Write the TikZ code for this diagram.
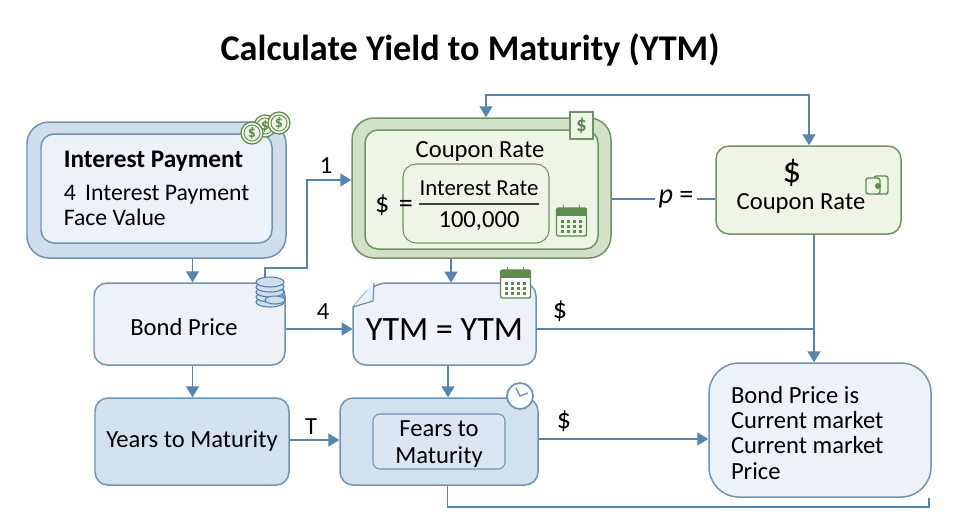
\documentclass[tikz,border=0pt]{standalone}
\usepackage{fontspec}
\setmainfont{Carlito}
\usetikzlibrary{arrows.meta,positioning}
\definecolor{flowblue}{HTML}{5585AE}
\definecolor{edgeblue}{HTML}{6F93B5}
\definecolor{edgegreen}{HTML}{6F9464}
\definecolor{iconblue}{HTML}{4F7FAB}
\definecolor{icongreen}{HTML}{5E8C4F}
\definecolor{paleblue}{HTML}{EDF1F8}
\definecolor{midblue}{HTML}{D3E0EE}
\definecolor{softblue}{HTML}{CFDDEC}
\definecolor{palegreen}{HTML}{EEF4E6}
\definecolor{softgreen}{HTML}{D2E1C7}

\begin{document}
\begin{tikzpicture}[x=0.2mm,y=-0.2mm]
\tikzset{
  box/.style={rectangle,draw=edgeblue,line width=0.85pt,rounded corners=2.6mm,inner sep=0pt,align=center,font=\fontsize{14}{14.7}\selectfont},
  greenbox/.style={box,draw=edgegreen},
  flow/.style={draw=flowblue,line width=0.85pt,-{Triangle[length=2.2mm,width=2.6mm]}},
  plainflow/.style={draw=flowblue,line width=0.85pt},
  flowlabel/.style={inner sep=0pt,font=\fontsize{14}{17}\selectfont},
  biglabel/.style={inner sep=0pt,font=\fontsize{16}{19}\selectfont},
  coin/.pic={
    \draw[icongreen,line width=0.7pt,fill=palegreen] (0,0) circle (11);
    \draw[icongreen,line width=0.5pt] (0,0) circle (8);
    \node[inner sep=0pt,text=icongreen,font=\fontsize{9}{9}\selectfont\bfseries] (-coin) at (0,0) {\$};
  },
  calendar/.pic={
    \draw[icongreen,line width=0.8pt,fill=#1,rounded corners=0.3mm] (-15,-14) rectangle (15,14);
    \fill[icongreen] (-15,-14) rectangle (15,-6);
    \foreach \col in {-9,-3,3,9}
      \foreach \row in {-1,4,9}
        \fill[icongreen] (\col-1.5,\row-1.5) rectangle (\col+1.5,\row+1.5);
    \foreach \col in {-8,8}
      \draw[icongreen,line width=1pt] (\col,-17) -- (\col,-12);
  }
}
\useasboundingbox (0,0) rectangle (966,527);

\node[inner sep=0pt,font=\fontsize{20.6}{24}\selectfont\bfseries] (n_title) at (470,50) {Calculate Yield to Maturity (YTM)};

% first column
\node[box,fill=softblue,minimum width=51.8mm,minimum height=27.2mm,rounded corners=4.4mm] (n_interest) at (156.5,190) {};
\node[box,fill=paleblue,minimum width=46.2mm,minimum height=21.8mm,align=flush left,font=\fontsize{13.5}{14.3}\selectfont] (n_interest_in) at (156.5,188.5)
  {{\fontsize{14.4}{14.3}\selectfont\bfseries Interest Payment}\\[1.6mm]4\, Interest Payment\hspace*{1.2mm}\\Face Value};
\node[box,fill=paleblue,minimum width=38.2mm,minimum height=16.4mm] (n_bond) at (189.5,324) {\rule{0pt}{4.55mm}Bond Price\hspace{2.2mm}};
\node[box,fill=midblue,minimum width=38.8mm,minimum height=17.4mm] (n_years) at (192,441.5) {Years to Maturity};

% middle column
\node[box,draw=edgegreen,fill=softgreen,minimum width=51.8mm,minimum height=28mm,rounded corners=4.4mm] (n_coupon) at (481.5,188) {};
\node[greenbox,fill=palegreen,minimum width=46.6mm,minimum height=23.8mm] (n_coupon_in) at (481.5,189.5) {};
\node[greenbox,fill=palegreen,line width=0.6pt,minimum width=29.2mm,minimum height=15.8mm] (n_formula) at (476,203.5) {};
\node[flowlabel] (n_coupon_label) at (480,151) {Coupon Rate};
\node[biglabel] (n_dollar_eq) at (394,205) {\$\,\,=};
\node[flowlabel,font=\fontsize{13}{16}\selectfont] (n_frac_top) at (479,188.5) {Interest Rate};
\node[flowlabel] (n_frac_bot) at (479,221) {100,000};
\draw[black!75,line width=0.85pt] (419,204) -- (539,204);

\draw[draw=edgeblue,line width=0.85pt,fill=paleblue,rounded corners=2.6mm] (353,307) -- (353,365) -- (536,365) -- (536,283) -- (374,283) [sharp corners] -- cycle;
\draw[draw=edgeblue,line width=0.7pt,fill=paleblue] (374,283) -- (373,301) -- (353,307);
\node[inner sep=0pt,minimum width=36.6mm,minimum height=16.4mm,font=\fontsize{19.4}{24}\selectfont] (n_ytm) at (444.5,324) {\rule{0pt}{6.4mm}YTM = YTM};

\node[box,fill=midblue,minimum width=39.6mm,minimum height=17.4mm] (n_fears) at (439,441.5) {};
\node[box,fill=midblue!65!paleblue,line width=0.6pt,minimum width=26.4mm,minimum height=11mm,rounded corners=1.4mm] (n_fears_in) at (439,441.5) {\rule{0pt}{4.2mm}Fears to\\[0.2mm]Maturity};

% right column
\node[greenbox,fill=palegreen,minimum width=37mm,minimum height=17.6mm] (n_rate) at (808.5,190) {};
\node[inner sep=0pt,font=\fontsize{21}{23}\selectfont] (n_rate_dollar) at (792,173) {\$};
\node[flowlabel] (n_rate_label) at (801,203) {Coupon Rate};
\node[box,fill=paleblue,minimum width=44.4mm,minimum height=26.8mm,rounded corners=6mm,text width=35.6mm,align=flush left,font=\fontsize{14}{14.3}\selectfont] (n_result) at (820,430)
  {\rule{0pt}{4.6mm}Bond Price is\\Current market\\Current market\\Price};

% connectors
\draw[flow] (192.5,0 |- n_interest.south) -- (192.5,0 |- n_bond.north);
\draw[flow] (192.5,0 |- n_bond.south) -- (192.5,0 |- n_years.north);
\draw[flow] (265,0 |- n_bond.north) -- (265,268) -- (307,268) -- (307,180) -- (n_coupon.west |- 0,180);
\draw[flow] (n_bond.east |- 0,329) -- (n_ytm.west |- 0,329);
\draw[flow] (n_years.east |- 0,440) -- (n_fears.west |- 0,440);
\draw[flow] (451,0 |- n_coupon.south) -- (451,0 |- n_ytm.north);
\draw[flow] (448,0 |- n_ytm.south) -- (448,0 |- n_fears.north);
\draw[flow] (n_fears.east |- 0,439) -- (n_result.west |- 0,439);
\draw[flow] (809,95) -- (486,95) -- (486,0 |- n_coupon.north);
\draw[flow] (486,95) -- (809,95) -- (809,0 |- n_rate.north);
\draw[flow] (814,0 |- n_rate.south) -- (814,0 |- n_result.north);
\draw[plainflow] (n_ytm.east |- 0,329) -- (814,329);
\draw[plainflow] (447.5,0 |- n_fears.south) -- (447.5,507) -- (929,507) -- (929,0 |- n_result.south);
\draw[plainflow] (n_coupon.east |- 0,199) -- (n_rate.west |- 0,199) node[pos=0.62,fill=white,inner sep=2pt,font=\fontsize{16}{19}\selectfont] (n_p) {\textit{p} =};

% labels on connectors
\node[flowlabel] (n_lab_one) at (326,166) {1};
\node[flowlabel] (n_lab_four) at (323,312) {4};
\node[flowlabel] (n_lab_t) at (311,427) {T};
\node[biglabel] (n_lab_ytm) at (560,311) {\$};
\node[biglabel] (n_lab_fears) at (564,421) {\$};

% icons
\pic at (265,126) {coin};
\pic at (279,123) {coin};
\pic at (252,133) {coin};
\pic at (571.5,222) {calendar=palegreen};
\pic at (515.5,284) {calendar=white};

\node[draw=edgegreen,fill=palegreen,line width=0.8pt,minimum width=4.6mm,minimum height=5.4mm,inner sep=0pt,text=icongreen,font=\fontsize{12}{12}\selectfont\bfseries] (n_square) at (581.5,125.5) {\$};

\foreach \ypos in {302,297,292,287,282}
  \draw[iconblue,line width=0.6pt,fill=softblue] (270,\ypos) ellipse (14 and 5);
\draw[iconblue,line width=0.6pt,fill=softblue] (275,300) ellipse (10 and 4);

\draw[edgeblue,line width=1pt,fill=white] (520,396) circle (13);
\draw[edgeblue,line width=0.8pt] (516,388) -- (520,396) -- (528,393);

\draw[icongreen,line width=0.8pt,rounded corners=0.5mm] (874,176) rectangle (888,194);
\draw[icongreen,line width=0.8pt,fill=palegreen,rounded corners=0.5mm] (866,178) rectangle (880,194);
\fill[icongreen] (878,186) circle (3);
\end{tikzpicture}
\end{document}
